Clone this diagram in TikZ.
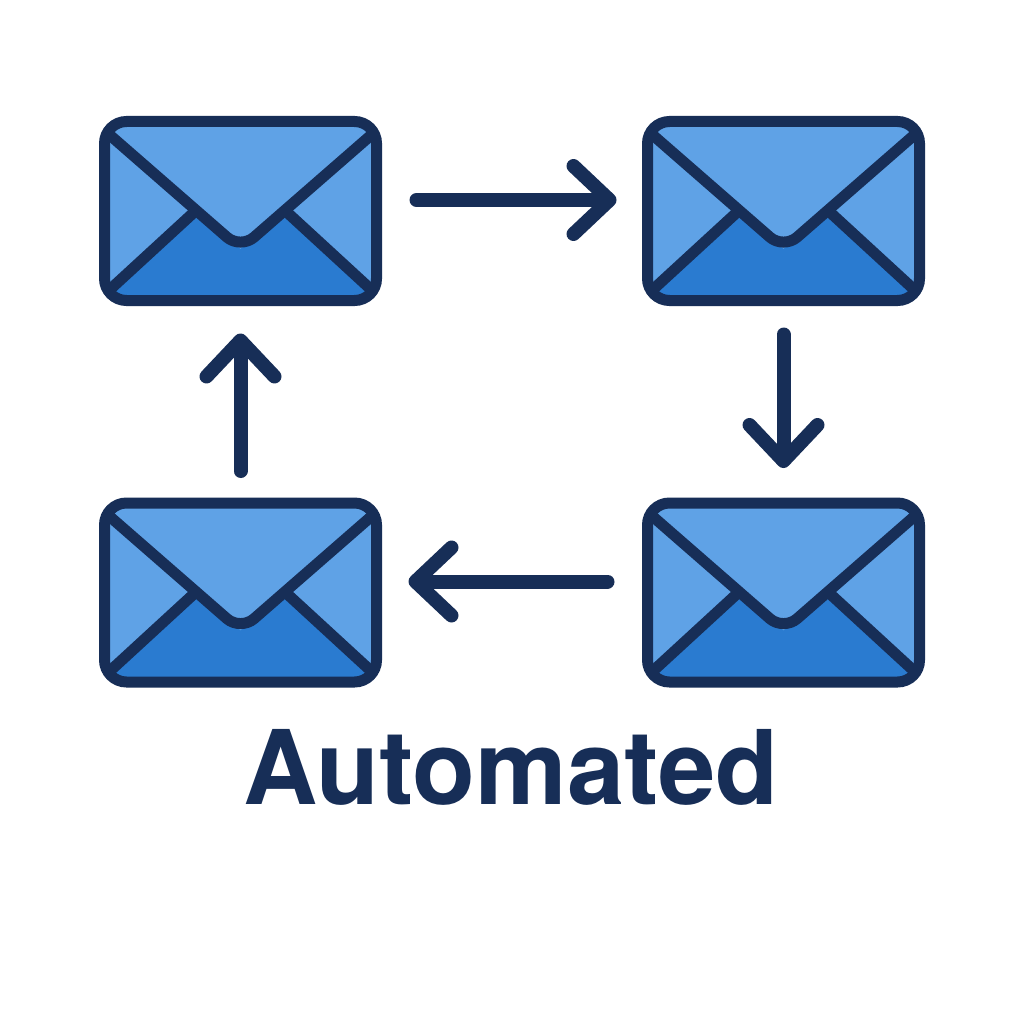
\documentclass[tikz,border=0pt]{standalone}
\usepackage{fontspec}
\setmainfont{TeX Gyre Heros}
\usetikzlibrary{arrows.meta}
\definecolor{navy}{HTML}{172E57}
\definecolor{lightblue}{HTML}{5FA2E6}
\definecolor{darkblue}{HTML}{2A7BD0}
\tikzset{
    envelope/.style={draw=navy,fill=lightblue,line width=11pt,rounded corners=22pt,
        minimum width=272pt,minimum height=179pt,inner sep=0pt,outer sep=0pt,
        path picture={
            \begin{scope}[shift={(path picture bounding box.center)}]
                \fill[darkblue,sharp corners] (-136.5,84) -- (-44,-1) -- (0,38) -- (44,-1) -- (136.5,84) -- (136.5,100) -- (-136.5,100) -- cycle;
                \draw[navy,line width=11pt,sharp corners] (-136.5,84) -- (-44,-1);
                \draw[navy,line width=11pt,sharp corners] (136.5,84) -- (44,-1);
                \draw[navy,line width=11pt,rounded corners=18pt] (-136.5,-81) -- (0,38) -- (136.5,-81);
            \end{scope}
        }},
    flow/.style={draw=navy,line width=14pt,line cap=round,-{Straight Barb[round,length=36pt,width=68pt]}}
}
\begin{document}
\begin{tikzpicture}[x=1pt,y=-1pt]
    \useasboundingbox[fill=white] (0,0) rectangle (1024,1024);
    \node[envelope] (mailTL) at (240.5,211) {};
    \node[envelope] (mailTR) at (783.5,211) {};
    \node[envelope] (mailBL) at (240.5,592.5) {};
    \node[envelope] (mailBR) at (783.5,592.5) {};
    \draw[flow,shorten <=40pt,shorten >=31pt] ([shift={(0,-11)}]mailTL.east) -- ([shift={(0,-11)}]mailTR.west);
    \draw[flow,shorten <=34pt,shorten >=35pt] (mailTR.south) -- (mailBR.north);
    \draw[flow,shorten <=40pt,shorten >=32pt] ([shift={(0,-11)}]mailBR.west) -- ([shift={(0,-11)}]mailBL.east);
    \draw[flow,shorten <=32pt,shorten >=33pt] (mailBL.north) -- (mailTL.south);
    \node[anchor=base,text=navy,font=\fontsize{103}{103}\selectfont\bfseries,inner sep=0pt] (caption) at (511,804) {Automated};
\end{tikzpicture}
\end{document}
